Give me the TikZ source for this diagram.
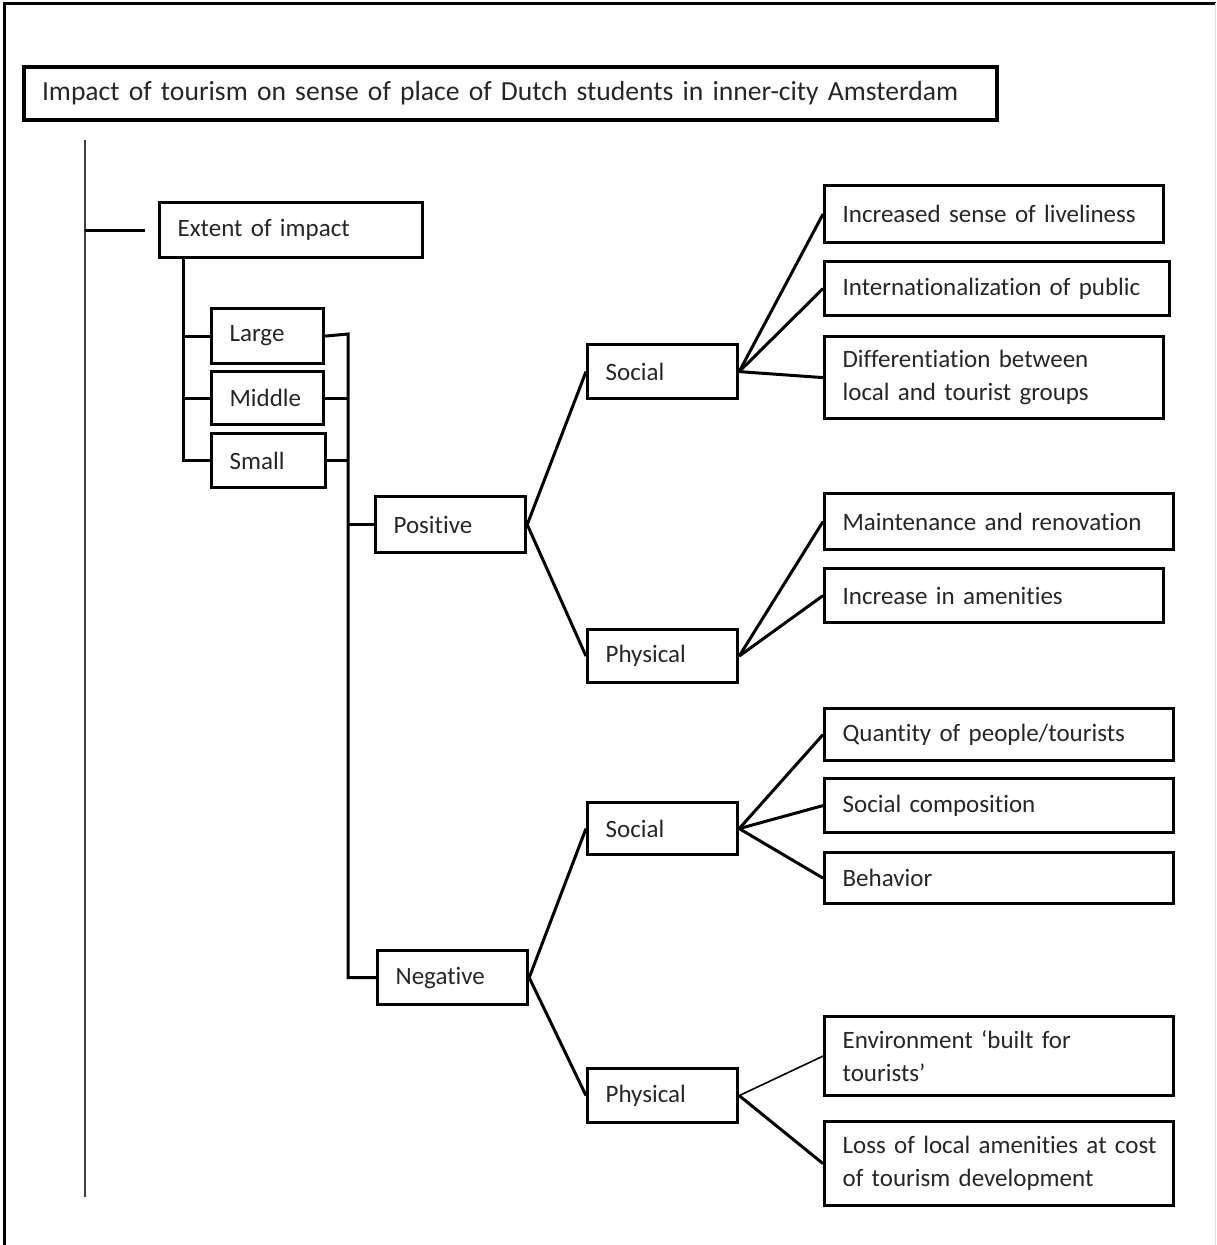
\documentclass[tikz,border=0pt]{standalone}
\usepackage{fontspec}
\setmainfont{Carlito}[Ligatures={NoCommon}]
\usetikzlibrary{positioning}

\begin{document}
\begin{tikzpicture}[x=1pt, y=-1pt,
box/.style={draw, line width=3.2pt, anchor=north west, align=left, inner xsep=18pt, inner ysep=0pt, text=black!85, font=\fontsize{25}{33}\selectfont},
link/.style={line width=3pt},
thinlink/.style={line width=1.6pt}
]
\useasboundingbox (0,0) rectangle (1216,1245);
% page frame
\draw[line width=3pt] (4,1245) -- (4,3) -- (1216,3);
\draw[black!12, line width=1pt] (1215,3) -- (1215,1245);

% title and first level
\node[box, line width=4pt, text width=937pt, minimum height=53pt, font=\fontsize{27.6}{30}\selectfont] (title) at (22,65) {Impact of tourism on sense of place of Dutch students in inner-city Amsterdam};
\node[box, text width=227pt, minimum height=55pt] (extent) at (158,201) {Extent of impact};
\node[box, text width=76pt, minimum height=55pt] (large) at (210,307) {Large};
\node[box, text width=76pt, minimum height=53pt] (middle) at (210,370) {Middle};
\node[box, text width=78pt, minimum height=54pt] (small) at (210,432) {Small};
\node[box, text width=114pt, minimum height=56pt] (positive) at (374,495) {Positive};
\node[box, text width=114pt, minimum height=54pt] (negative) at (376,949) {Negative};

% second level
\node[box, text width=114pt, minimum height=54pt] (possocial) at (586,343) {Social};
\node[box, text width=114pt, minimum height=53pt] (posphys) at (586,628) {Physical};
\node[box, text width=114pt, minimum height=52pt] (negsocial) at (586,801) {Social};
\node[box, text width=114pt, minimum height=54pt] (negphys) at (586,1067) {Physical};

% leaves
\node[box, text width=303pt, minimum height=57pt] (lively) at (823,184) {Increased sense of liveliness};
\node[box, text width=309pt, minimum height=54pt] (intl) at (823,260) {Internationalization of public};
\node[box, text width=303pt, minimum height=82pt] (differ) at (823,335) {Differentiation between\\local and tourist groups};
\node[box, text width=313pt, minimum height=56pt] (maint) at (823,492) {Maintenance and renovation};
\node[box, text width=303pt, minimum height=54pt] (amen) at (823,567) {Increase in amenities};
\node[box, text width=313pt, minimum height=52pt] (quant) at (823,707) {Quantity of people/tourists};
\node[box, text width=313pt, minimum height=54pt] (compo) at (823,777) {Social composition};
\node[box, text width=313pt, minimum height=51pt] (behav) at (823,851) {Behavior};
\node[box, text width=313pt, minimum height=79pt] (envir) at (823,1015) {Environment `built for\\tourists'};
\node[box, text width=313pt, minimum height=84pt] (loss) at (823,1120) {\mbox{Loss of local amenities at cost}\\of tourism development};

% trunk on the left
\coordinate (trunktop) at (85,140);
\coordinate (trunkbot) at (85,1197);
\draw[black!75, line width=2pt] (trunktop) -- (trunkbot);
\draw[link] (trunktop |- extent.west) -- ++(60,0);

% extent to its three grades
\coordinate (lbus) at (183,256);
\draw[link] (lbus) |- (small.west);
\draw[link] (lbus |- large.west) -- (large.west);
\draw[link] (lbus |- middle.west) -- (middle.west);

% grades to positive / negative
\coordinate (rbus) at (348,334);
\draw[link] (large.east) -- (rbus) |- (negative.west);
\draw[link] (middle.east) -- (rbus |- middle.east);
\draw[link] (small.east) -- (rbus |- small.east);
\draw[link] (rbus |- positive.west) -- (positive.west);

% branches
\draw[link] (possocial.west) -- (positive.east) -- (posphys.west);
\draw[link] (negsocial.west) -- (negative.east) -- (negphys.west);
\foreach \leaf in {lively, intl, differ}
  \draw[link] (possocial.east) -- (\leaf.west);
\foreach \leaf in {maint, amen}
  \draw[link] (posphys.east) -- (\leaf.west);
\foreach \leaf in {quant, compo, behav}
  \draw[link] (negsocial.east) -- (\leaf.west);
\draw[thinlink] (negphys.east) -- (envir.west);
\draw[link] (negphys.east) -- (loss.west);
\end{tikzpicture}
\end{document}
